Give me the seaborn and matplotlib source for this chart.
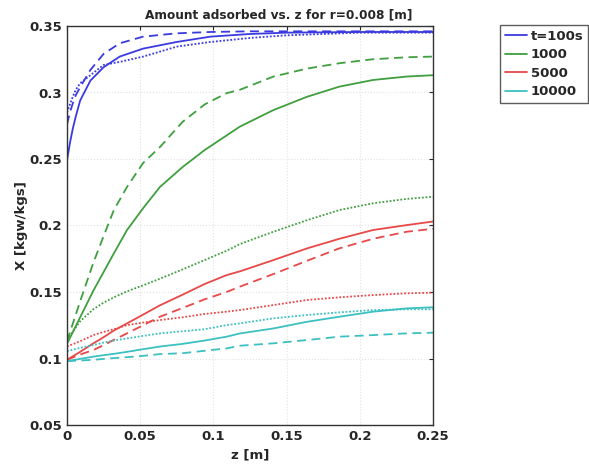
import numpy as np
import pandas as pd
import matplotlib
matplotlib.use("Agg")
import matplotlib.pyplot as plt
import seaborn as sns
from matplotlib.lines import Line2D

# ---- data ----
z_blue = [0, 0.002, 0.004, 0.006, 0.009, 0.016, 0.025, 0.036, 0.052, 0.075, 0.098, 0.125, 0.15, 0.2, 0.25]
blue_solid = [0.249, 0.262, 0.273, 0.282, 0.294, 0.309, 0.319, 0.327, 0.333, 0.338, 0.342, 0.344, 0.345, 0.3455, 0.3455]
blue_dashed = [0.276, 0.285, 0.292, 0.298, 0.304, 0.317, 0.329, 0.337, 0.342, 0.3445, 0.3455, 0.346, 0.346, 0.346, 0.346]
blue_dotted = [0.285, 0.291, 0.297, 0.302, 0.307, 0.313, 0.3207, 0.323, 0.327, 0.3345, 0.338, 0.341, 0.343, 0.345, 0.345]

z = [0, 0.009, 0.018, 0.025, 0.032, 0.041, 0.052, 0.0635, 0.079, 0.094, 0.109, 0.118, 0.141, 0.164, 0.186, 0.209, 0.232, 0.25]
green_solid = [0.111, 0.131, 0.151, 0.165, 0.179, 0.1966, 0.213, 0.229, 0.244, 0.2567, 0.2677, 0.2743, 0.2868, 0.2968, 0.3044, 0.3094, 0.312, 0.313]
green_dashed = [0.113, 0.143, 0.172, 0.192, 0.2116, 0.229, 0.247, 0.259, 0.278, 0.291, 0.2995, 0.302, 0.312, 0.318, 0.322, 0.325, 0.3265, 0.327]
green_dotted = [0.114, 0.128, 0.137, 0.142, 0.146, 0.1505, 0.155, 0.160, 0.167, 0.174, 0.1810, 0.1860, 0.1953, 0.204, 0.2116, 0.2167, 0.220, 0.2216]
red_solid = [0.099, 0.105, 0.1114, 0.116, 0.121, 0.1264, 0.133, 0.140, 0.148, 0.156, 0.1627, 0.1655, 0.174, 0.1828, 0.190, 0.1966, 0.2003, 0.203]
red_dashed = [0.099, 0.103, 0.1064, 0.110, 0.114, 0.1189, 0.125, 0.1314, 0.138, 0.1445, 0.150, 0.154, 0.1635, 0.1735, 0.1828, 0.190, 0.1953, 0.1975]
red_dotted = [0.109, 0.113, 0.1176, 0.120, 0.122, 0.1251, 0.127, 0.1289, 0.131, 0.1335, 0.1352, 0.1364, 0.1402, 0.144, 0.146, 0.1477, 0.149, 0.1495]
cyan_solid = [0.098, 0.0997, 0.1014, 0.1025, 0.1035, 0.105, 0.107, 0.109, 0.111, 0.1135, 0.1164, 0.1188, 0.1226, 0.1276, 0.1314, 0.1352, 0.1377, 0.1385]
cyan_dashed = [0.098, 0.0985, 0.099, 0.0997, 0.1003, 0.101, 0.102, 0.1033, 0.104, 0.1058, 0.1076, 0.1096, 0.1114, 0.1139, 0.1164, 0.1176, 0.1189, 0.1194]
cyan_dotted = [0.1055, 0.108, 0.1101, 0.112, 0.1135, 0.1151, 0.117, 0.1189, 0.1205, 0.122, 0.1251, 0.1264, 0.1302, 0.1327, 0.1347, 0.1364, 0.137, 0.137]

legend_labels = ["t=100s", "1000", "5000", "10000"]
x_ticks = [0, 0.05, 0.1, 0.15, 0.2, 0.25]
x_ticklabels = ["0", "0.05", "0.1", "0.15", "0.2", "0.25"]
y_ticks = [0.05, 0.1, 0.15, 0.2, 0.25, 0.3, 0.35]
y_ticklabels = ["0.05", "0.1", "0.15", "0.2", "0.25", "0.3", "0.35"]

# ---- style ----
sns.set_style("white")
plt.rcParams['font.family'] = ['DejaVu Sans']
plt.rcParams['font.weight'] = 'bold'

colors = ["#3a3ae0", "#3f9f3f", "#e84848", "#3cc0c0"]
dotted = (0, (1, 1))
dashed = (0, (5, 3))

fig = plt.figure(figsize=(5.89, 4.73), dpi=100)
ax = fig.add_axes([67/589, 1 - 425/473, (433-67)/589, (425-26)/473])

series = [
    (z_blue, blue_solid, 0, "-"), (z_blue, blue_dashed, 0, dashed), (z_blue, blue_dotted, 0, dotted),
    (z, green_solid, 1, "-"), (z, green_dashed, 1, dashed), (z, green_dotted, 1, dotted),
    (z, red_solid, 2, "-"), (z, red_dashed, 2, dashed), (z, red_dotted, 2, dotted),
    (z, cyan_solid, 3, "-"), (z, cyan_dashed, 3, dashed), (z, cyan_dotted, 3, dotted),
]
for zz, yy, ci, ls in series:
    df = pd.DataFrame({"z": zz, "X": yy})
    sns.lineplot(data=df, x="z", y="X", ax=ax, color=colors[ci], linestyle=ls,
                 linewidth=1.3, estimator=None, sort=False, legend=False)

ax.set_xlim(0, 0.25)
ax.set_ylim(0.05, 0.35)
ax.set_xticks(x_ticks)
ax.set_xticklabels(x_ticklabels)
ax.set_yticks(y_ticks)
ax.set_yticklabels(y_ticklabels)
ax.tick_params(direction="in", top=True, right=True, length=3, labelsize=9.5, width=0.8)
for lab in ax.get_xticklabels() + ax.get_yticklabels():
    lab.set_fontweight("bold")
ax.grid(True, color="#e3e3e3", linestyle=":", linewidth=0.8)
for s in ax.spines.values():
    s.set_color("#333333")
    s.set_linewidth(1.0)

ax.set_xlabel("z [m]", fontsize=9.5, fontweight="bold", labelpad=4)
ax.set_ylabel("X [kgw/kgs]", fontsize=9.5, fontweight="bold", labelpad=1)
fig.text(278.5/589, 1 - 15/473, "Amount adsorbed vs. z for r=0.008 [m]", fontsize=8.7,
         fontweight="bold", ha="center", va="center")

handles = [Line2D([0], [0], color=c, lw=1.3) for c in colors]
leg = fig.legend(handles, legend_labels, loc="upper left", bbox_to_anchor=(500/589, 1 - 25/473),
                 frameon=True, fancybox=False, edgecolor="#333333",
                 prop={"weight": "bold", "size": 9.5}, handlelength=1.7, handletextpad=0.3,
                 labelspacing=0.42, borderpad=0.35, borderaxespad=0)
leg.get_frame().set_linewidth(1.0)

fig.savefig("out.png", dpi=100)
